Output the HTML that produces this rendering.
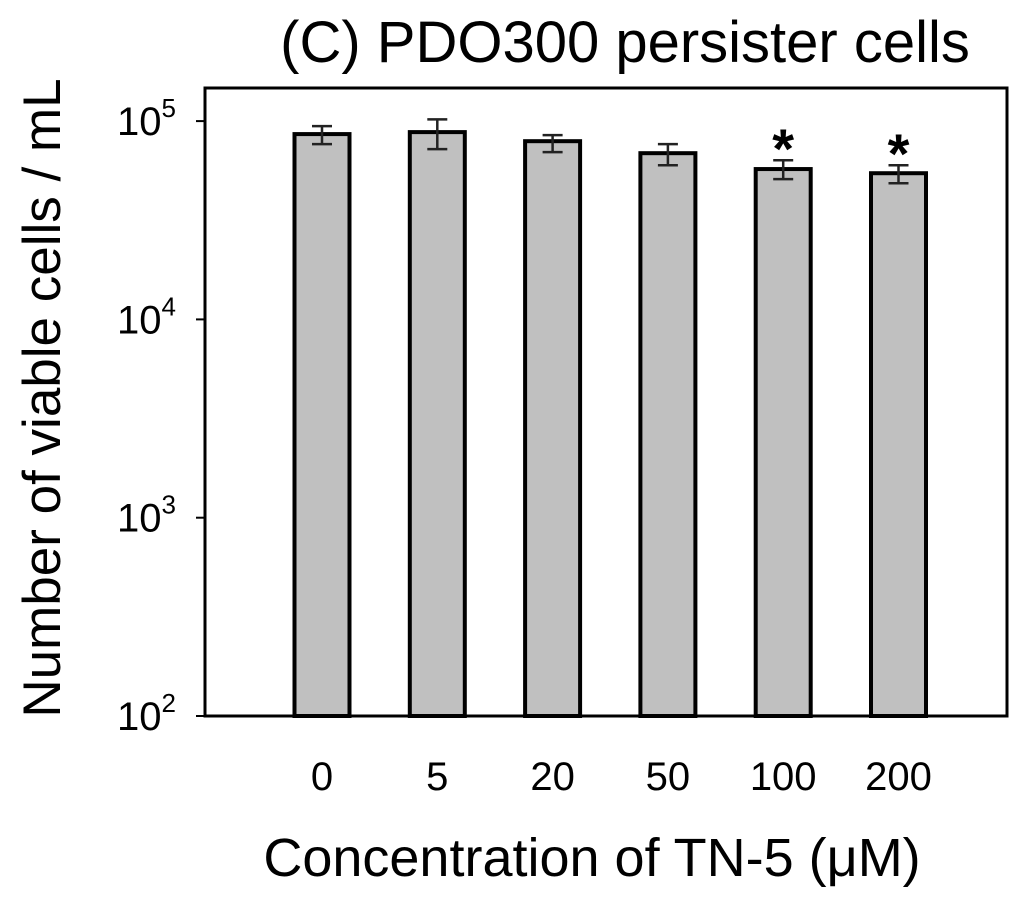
<!DOCTYPE html>
<html><head><meta charset="utf-8"><style>
html,body{margin:0;padding:0;background:#fff;}
svg{display:block;font-family:"Liberation Sans",Arial,sans-serif;}
</style></head><body>
<svg id="chart" width="1024" height="898" viewBox="0 0 1024 898">
<text x="625" y="62" font-size="58" text-anchor="middle">(C) PDO300 persister cells</text>
<text transform="translate(60,398) rotate(-90)" font-size="53" text-anchor="middle">Number of viable cells / mL</text>
<text x="592" y="876" font-size="54" text-anchor="middle">Concentration of TN-5 (μM)</text>
<g id="marks"></g>
<rect x="205" y="88" width="802" height="628" fill="none" stroke="#000" stroke-width="3"/>
</svg>
<script>
const categories = ["0","5","20","50","100","200"];
const values = [86000, 88000, 79200, 68900, 57300, 54600];
const errLow = [76500, 72200, 69700, 59900, 51000, 48600];
const errHigh = [94300, 102000, 85000, 76500, 63500, 59900];
const significant = [false, false, false, false, true, true];
const yTickExps = [2, 3, 4, 5];

const NS = "http://www.w3.org/2000/svg";
const g = document.getElementById("marks");
const plotL = 205, plotR = 1007, yBase = 716, pxPerDecade = 198.3;
function yScale(v){ return yBase - (Math.log10(v) - 2) * pxPerDecade; }
function xScale(i){ return 322 + i * 115.3; }
function mk(tag, attrs){ const e = document.createElementNS(NS, tag); for (const k in attrs) e.setAttribute(k, attrs[k]); g.appendChild(e); return e; }

yTickExps.forEach(function(ex){
  const y = yScale(Math.pow(10, ex));
  const t = mk("line", {x1: plotL - 9, x2: plotL, y1: y, y2: y, stroke: "#000", "stroke-width": 2});
  
  
  const lab = mk("text", {x: 176, y: y + 14, "font-size": 40, "text-anchor": "end"});
  
  
  lab.textContent = "10";
  const sup = document.createElementNS(NS, "tspan");
  sup.setAttribute("dy", -18); sup.setAttribute("font-size", 26);
  sup.textContent = String(ex);
  lab.appendChild(sup);
});

categories.forEach(function(c, i){
  const cx = xScale(i), w = 55;
  const top = yScale(values[i]);
  const bar = mk("rect", {x: cx - w/2, y: top, width: w, height: yBase - top, fill: "#c0c0c0", stroke: "#000", "stroke-width": 4});
  
  
  const yh = yScale(errHigh[i]), yl = yScale(errLow[i]);
  const eb = mk("path", {d: "M"+cx+" "+yh+"V"+yl+"M"+(cx-10)+" "+yh+"H"+(cx+10)+"M"+(cx-10)+" "+yl+"H"+(cx+10), stroke: "#222", "stroke-width": 2.5, fill: "none"});
  
  
  const xl = mk("text", {x: cx, y: 790, "font-size": 40, "text-anchor": "middle"});
  
  
  xl.textContent = c;
  if (significant[i]) {
    const s = mk("text", {x: cx, y: yh + 8, "font-size": 56, "font-weight": "bold", "text-anchor": "middle"});
    
    
    s.textContent = "*";
  }
});
</script>
</body></html>
